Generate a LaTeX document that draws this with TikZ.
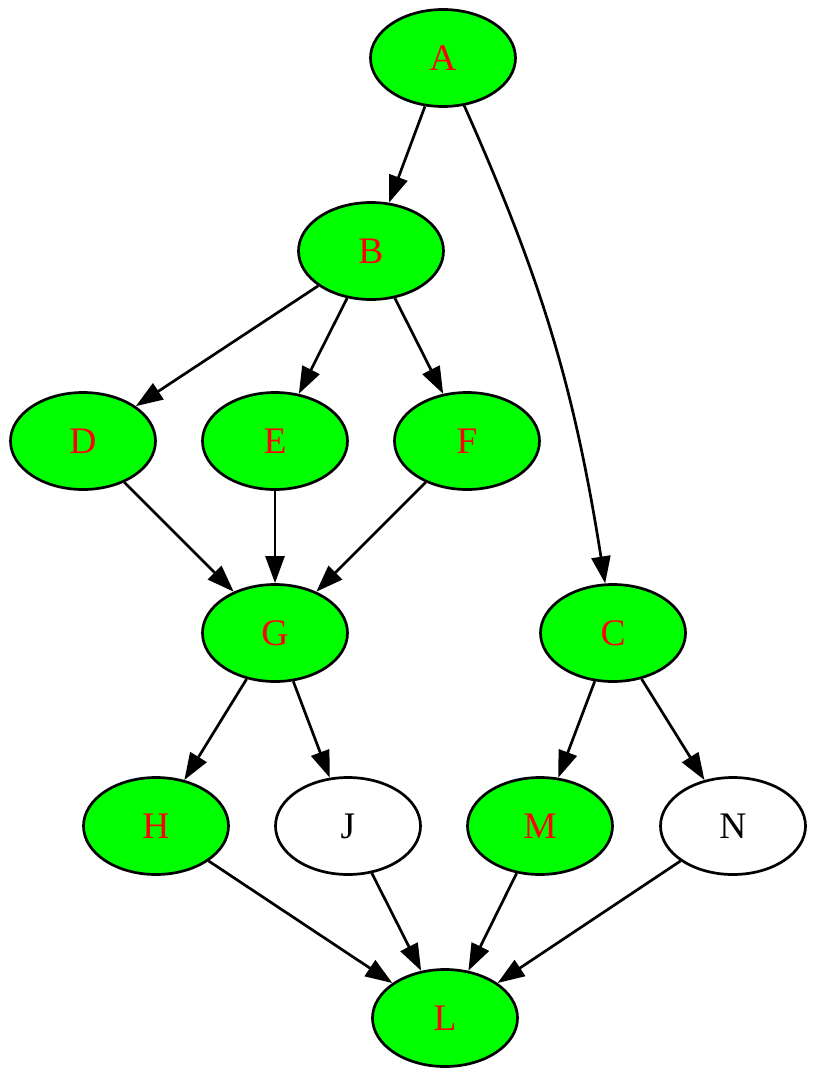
\documentclass[tikz,border=0pt]{standalone}
\usepackage{fontspec}
\setmainfont{Liberation Serif}
\usetikzlibrary{arrows.meta,shapes.geometric}

\begin{document}
\begin{tikzpicture}[x=1pt,y=-1pt,
    vertex/.style={ellipse,draw,line width=2.7pt,minimum width=145pt,minimum height=97pt,inner sep=0pt,font=\fontsize{37.5}{40}\selectfont},
    done/.style={vertex,fill={rgb,255:red,0;green,255;blue,0},text={rgb,255:red,255;green,0;blue,0}},
    todo/.style={vertex,fill=white,text=black},
    edge/.style={line width=2.7pt,-{Triangle[length=27pt,width=19pt]}}]
        \useasboundingbox (0,0) rectangle (816,1078);
        \node[done] (a) at (443,58) {A};
        \node[done] (b) at (371,251) {B};
        \node[done] (d) at (83,441) {D};
        \node[done] (e) at (275,441) {E};
        \node[done] (f) at (467,441) {F};
        \node[done] (g) at (275,633) {G};
        \node[done] (c) at (613,633) {C};
        \node[done] (h) at (156,826) {H};
        \node[todo] (j) at (348,826) {J};
        \node[done] (m) at (540,826) {M};
        \node[todo] (n) at (733,826) {N};
        \node[done] (l) at (445,1018) {L};
        \draw[edge] (a) -- (b);
        \draw[edge] (a) to[out=-66,in=99] (c);
        \draw[edge] (b) -- (d);
        \draw[edge] (b) -- (e);
        \draw[edge] (b) -- (f);
        \draw[edge] (d) -- (g);
        \draw[edge] (e) -- (g);
        \draw[edge] (f) -- (g);
        \draw[edge] (g) -- (h);
        \draw[edge] (g) -- (j);
        \draw[edge] (c) -- (m);
        \draw[edge] (c) -- (n);
        \draw[edge] (h) -- (l);
        \draw[edge] (j) -- (l);
        \draw[edge] (m) -- (l);
        \draw[edge] (n) -- (l);
    \end{tikzpicture}
\end{document}
